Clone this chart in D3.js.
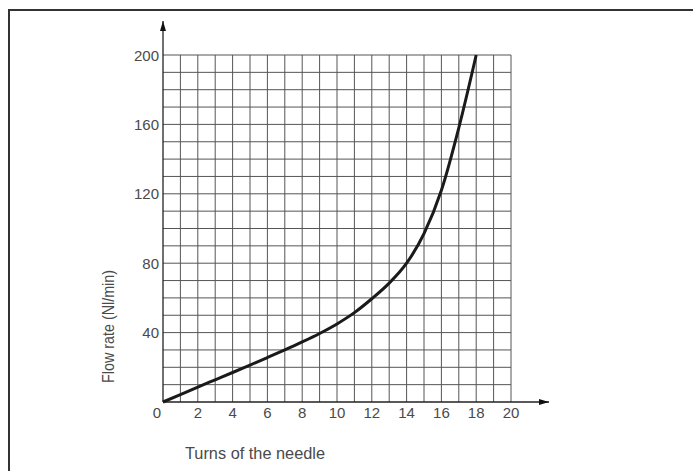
<!DOCTYPE html>
<html>
<head>
<meta charset="utf-8">
<script src="https://cdn.jsdelivr.net/npm/d3@7"></script>
<style>
  body { margin: 0; background: #fff; }
  text { font-family: "Liberation Sans", Arial, sans-serif; fill: #4a4a4a; }
</style>
</head>
<body>
<svg width="693" height="471"></svg>
<script>
// turns of the needle vs flow rate (Nl/min)
const turns = [0, 1, 2, 3, 4, 5, 6, 7, 8, 9, 10, 11, 12, 13, 14, 15, 16, 17, 18];
const flow  = [0, 4.2, 8.6, 12.8, 17, 21.3, 25.6, 30, 34.6, 39.5, 45, 51.5, 59.5, 68.5, 80, 97, 122, 158, 200];
const xTicks = [0, 2, 4, 6, 8, 10, 12, 14, 16, 18, 20];
const yTicks = [40, 80, 120, 160, 200];

const svg = d3.select("svg");

// outer frame
svg.append("rect")
    .attr("x", 9).attr("y", 10)
    .attr("width", 700).attr("height", 500)
    .attr("fill", "none")
    .attr("stroke", "#333")
    .attr("stroke-width", 2);

const x = d3.scaleLinear().domain([0, 20]).range([163, 511]);
const y = d3.scaleLinear().domain([0, 200]).range([402, 55]);

const grid = svg.append("g").attr("stroke", "#555").attr("stroke-width", 1);

grid.selectAll("line.v")
    .data(d3.range(1, 21))
    .join("line")
    .attr("class", "v")
    .attr("x1", d => x(d)).attr("x2", d => x(d))
    .attr("y1", y(0)).attr("y2", y(200));

grid.selectAll("line.h")
    .data(d3.range(10, 210, 10))
    .join("line")
    .attr("class", "h")
    .attr("x1", x(0)).attr("x2", x(20))
    .attr("y1", d => y(d)).attr("y2", d => y(d));

// axes with arrows
svg.append("defs").append("marker")
    .attr("id", "arrow")
    .attr("viewBox", "0 0 10 6")
    .attr("refX", 10).attr("refY", 3)
    .attr("markerWidth", 12).attr("markerHeight", 6)
    .attr("markerUnits", "userSpaceOnUse")
    .attr("orient", "auto")
  .append("path")
    .attr("d", "M0,0 L10,3 L0,6 Z")
    .attr("fill", "#111");

svg.append("line")
    .attr("x1", x(0)).attr("y1", y(0))
    .attr("x2", 549).attr("y2", y(0))
    .attr("stroke", "#222").attr("stroke-width", 1.3)
    .attr("marker-end", "url(#arrow)");

svg.append("line")
    .attr("x1", x(0)).attr("y1", y(0))
    .attr("x2", x(0)).attr("y2", 21)
    .attr("stroke", "#222").attr("stroke-width", 1.3)
    .attr("marker-end", "url(#arrow)");

// tick labels
svg.selectAll("text.xt")
    .data(xTicks)
    .join("text")
    .attr("class", "xt")
    .attr("x", d => d === 0 ? x(d) - 6 : x(d))
    .attr("y", y(0) + 15.5)
    .attr("text-anchor", "middle")
    .style("font-size", "15px")
    .text(d => d);

svg.selectAll("text.yt")
    .data(yTicks)
    .join("text")
    .attr("class", "yt")
    .attr("x", x(0) - 4)
    .attr("y", d => y(d) + 5.5)
    .attr("text-anchor", "end")
    .style("font-size", "15px")
    .text(d => d);

// axis titles
svg.append("text")
    .attr("transform", `translate(114,326.5) rotate(-90)`)
    .attr("text-anchor", "middle")
    .attr("textLength", 113)
    .attr("lengthAdjust", "spacingAndGlyphs")
    .style("font-size", "17px")
    .text("Flow rate (Nl/min)");

svg.append("text")
    .attr("x", 185).attr("y", 459)
    .attr("textLength", 140)
    .attr("lengthAdjust", "spacingAndGlyphs")
    .style("font-size", "17px")
    .text("Turns of the needle");

// curve
const line = d3.line()
    .x((d, i) => x(turns[i]))
    .y(d => y(d))
    .curve(d3.curveMonotoneX);

svg.append("path")
    .datum(flow)
    .attr("d", line)
    .attr("fill", "none")
    .attr("stroke", "#1a1a1a")
    .attr("stroke-width", 3);
</script>
</body>
</html>
